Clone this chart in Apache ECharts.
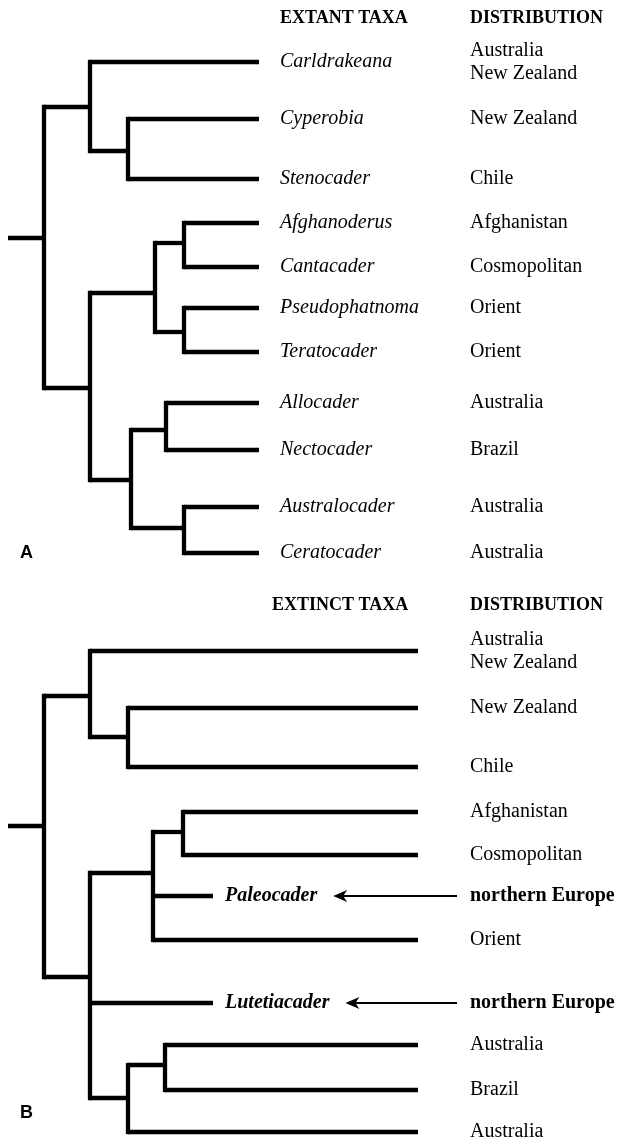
<!DOCTYPE html>
<html>
<head>
<meta charset="utf-8">
<title>Cladograms: extant and extinct taxa</title>
<script src="https://cdn.jsdelivr.net/npm/echarts@6/dist/echarts.min.js"></script>
<style>
html, body { margin: 0; padding: 0; background: #fff; }
#chart { width: 617px; height: 1139px; }
</style>
</head>
<body>
<div id="chart"></div>
<script>
// ---- panel A : extant taxa ----
const taxaA = ['Carldrakeana', 'Cyperobia', 'Stenocader', 'Afghanoderus', 'Cantacader', 'Pseudophatnoma', 'Teratocader', 'Allocader', 'Nectocader', 'Australocader', 'Ceratocader']
const distA = ['Australia\nNew Zealand', 'New Zealand', 'Chile', 'Afghanistan', 'Cosmopolitan', 'Orient', 'Orient', 'Australia', 'Brazil', 'Australia', 'Australia']
const leafRowA = [62, 119, 179, 223, 267, 308, 352, 403, 450, 507, 553]
const leafParentA = [1, 2, 2, 5, 5, 6, 6, 8, 8, 9, 9]
// internal nodes : parent node, depth of the node, row where the parent branch joins it
const nodeParentA = [-1, 0, 1, 0, 3, 4, 4, 3, 7, 7]
const nodeDepthA = [44, 90, 128, 90, 155, 184, 184, 131, 166, 184]
const nodeRowA = [238, 107, 151, 388, 293, 243, 332, 480, 430, 528]

// ---- panel B : extinct taxa added ----
const taxaB = ['', '', '', '', '', 'Paleocader', '', 'Lutetiacader', '', '', '']
const distB = ['Australia\nNew Zealand', 'New Zealand', 'Chile', 'Afghanistan', 'Cosmopolitan', 'northern Europe', 'Orient', 'northern Europe', 'Australia', 'Brazil', 'Australia']
const fossilB = [false, false, false, false, false, true, false, true, false, false, false]
const leafRowB = [651, 708, 767, 812, 855, 896, 940, 1003, 1045, 1090, 1132]
const leafParentB = [1, 2, 2, 5, 5, 4, 4, 3, 7, 7, 6]
const nodeParentB = [-1, 0, 1, 0, 3, 4, 3, 6]
const nodeDepthB = [44, 90, 128, 90, 153, 183, 128, 165]
const nodeRowB = [826, 696, 737, 977, 873, 832, 1098, 1065]

// layout (axis units)
const L = {
  stubX: 8, tipA: 259, tipB: 418, fossilTip: 213,
  taxonX: 280, fossilX: 225, distX: 470, extinctX: 272,
  headA: 18, headB: 605, letterX: 20, letterA: 553, letterB: 1113,
  arrowFrom: 457
}

const F = {
  taxon: 'italic 20px "Liberation Serif"',
  fossil: 'italic bold 20px "Liberation Serif"',
  dist: '20px "Liberation Serif"',
  distBold: 'bold 20px "Liberation Serif"',
  head: 'bold 18px "Liberation Serif"',
  letter: 'bold 18px "Liberation Sans"'
}

const buildTree = (p) => {
  const segs = []
  segs.push([L.stubX, p.nodeRow[0], p.nodeDepth[0], p.nodeRow[0]])
  p.nodeParent.forEach((par, i) => {
    if (par < 0) return
    segs.push([p.nodeDepth[par], p.nodeRow[i], p.nodeDepth[i], p.nodeRow[i]])
  })
  p.leafParent.forEach((par, i) => {
    const end = p.fossil && p.fossil[i] ? L.fossilTip : p.tip
    segs.push([p.nodeDepth[par], p.leafRow[i], end, p.leafRow[i]])
  })
  p.nodeDepth.forEach((d, i) => {
    const rows = []
    p.nodeParent.forEach((par, j) => { if (par === i) rows.push(p.nodeRow[j]) })
    p.leafParent.forEach((par, j) => { if (par === i) rows.push(p.leafRow[j]) })
    segs.push([d, Math.min(...rows), d, Math.max(...rows)])
  })
  return segs
}

const segments = buildTree({ nodeParent: nodeParentA, nodeDepth: nodeDepthA, nodeRow: nodeRowA, leafParent: leafParentA, leafRow: leafRowA, tip: L.tipA })
  .concat(buildTree({ nodeParent: nodeParentB, nodeDepth: nodeDepthB, nodeRow: nodeRowB, leafParent: leafParentB, leafRow: leafRowB, tip: L.tipB, fossil: fossilB }))

// texts
const texts = []
texts.push({ x: L.taxonX, y: L.headA, text: 'EXTANT TAXA', font: F.head })
texts.push({ x: L.distX, y: L.headA, text: 'DISTRIBUTION', font: F.head })
texts.push({ x: L.extinctX, y: L.headB, text: 'EXTINCT TAXA', font: F.head })
texts.push({ x: L.distX, y: L.headB, text: 'DISTRIBUTION', font: F.head })
texts.push({ x: L.letterX, y: L.letterA, text: 'A', font: F.letter })
texts.push({ x: L.letterX, y: L.letterB, text: 'B', font: F.letter })
taxaA.forEach((t, i) => {
  texts.push({ x: L.taxonX, y: leafRowA[i], text: t, font: F.taxon })
  texts.push({ x: L.distX, y: leafRowA[i], text: distA[i], font: F.dist })
})
const measure = document.createElement('canvas').getContext('2d')
const arrows = []
taxaB.forEach((t, i) => {
  if (t) {
    texts.push({ x: L.fossilX, y: leafRowB[i], text: t, font: F.fossil })
    measure.font = F.fossil
    arrows.push([L.arrowFrom, leafRowB[i], L.fossilX + measure.measureText(t).width + 16])
  }
  texts.push({ x: L.distX, y: leafRowB[i], text: distB[i], font: fossilB[i] ? F.distBold : F.dist })
})

const chart = echarts.init(document.getElementById('chart'))
chart.setOption({
  animation: false,
  backgroundColor: '#fff',
  grid: { left: 0, right: 0, top: 0, bottom: 0 },
  xAxis: { type: 'value', min: 0, max: 617, show: false },
  yAxis: { type: 'value', min: 0, max: 1139, inverse: true, show: false },
  series: [
    {
      type: 'custom',
      name: 'branches',
      data: segments,
      renderItem: (params, api) => {
        const a = api.coord([api.value(0), api.value(1)])
        const b = api.coord([api.value(2), api.value(3)])
        const vertical = api.value(0) === api.value(2)
        return {
          type: 'line',
          shape: { x1: a[0], y1: a[1], x2: b[0], y2: b[1] },
          style: { stroke: '#000', lineWidth: 4.3, lineCap: vertical ? 'square' : 'butt' }
        }
      }
    },
    {
      type: 'custom',
      name: 'arrows',
      data: arrows,
      renderItem: (params, api) => {
        const a = api.coord([api.value(0), api.value(1)])
        const b = api.coord([api.value(2), api.value(1)])
        const y = b[1]
        return {
          type: 'group',
          children: [
            { type: 'line', shape: { x1: a[0], y1: y, x2: b[0] + 9, y2: y }, style: { stroke: '#000', lineWidth: 2 } },
            { type: 'polygon', shape: { points: [[b[0], y], [b[0] + 14, y - 6], [b[0] + 10, y], [b[0] + 14, y + 6]] }, style: { fill: '#000' } }
          ]
        }
      }
    },
    {
      type: 'custom',
      name: 'labels',
      data: texts.map(t => [t.x, t.y]),
      renderItem: (params, api) => {
        const t = texts[params.dataIndex]
        const p = api.coord([api.value(0), api.value(1)])
        return {
          type: 'text',
          x: p[0],
          y: p[1],
          style: { text: t.text, font: t.font, fill: '#000', align: 'left', verticalAlign: 'middle', lineHeight: 23 }
        }
      }
    }
  ]
})
</script>
</body>
</html>
